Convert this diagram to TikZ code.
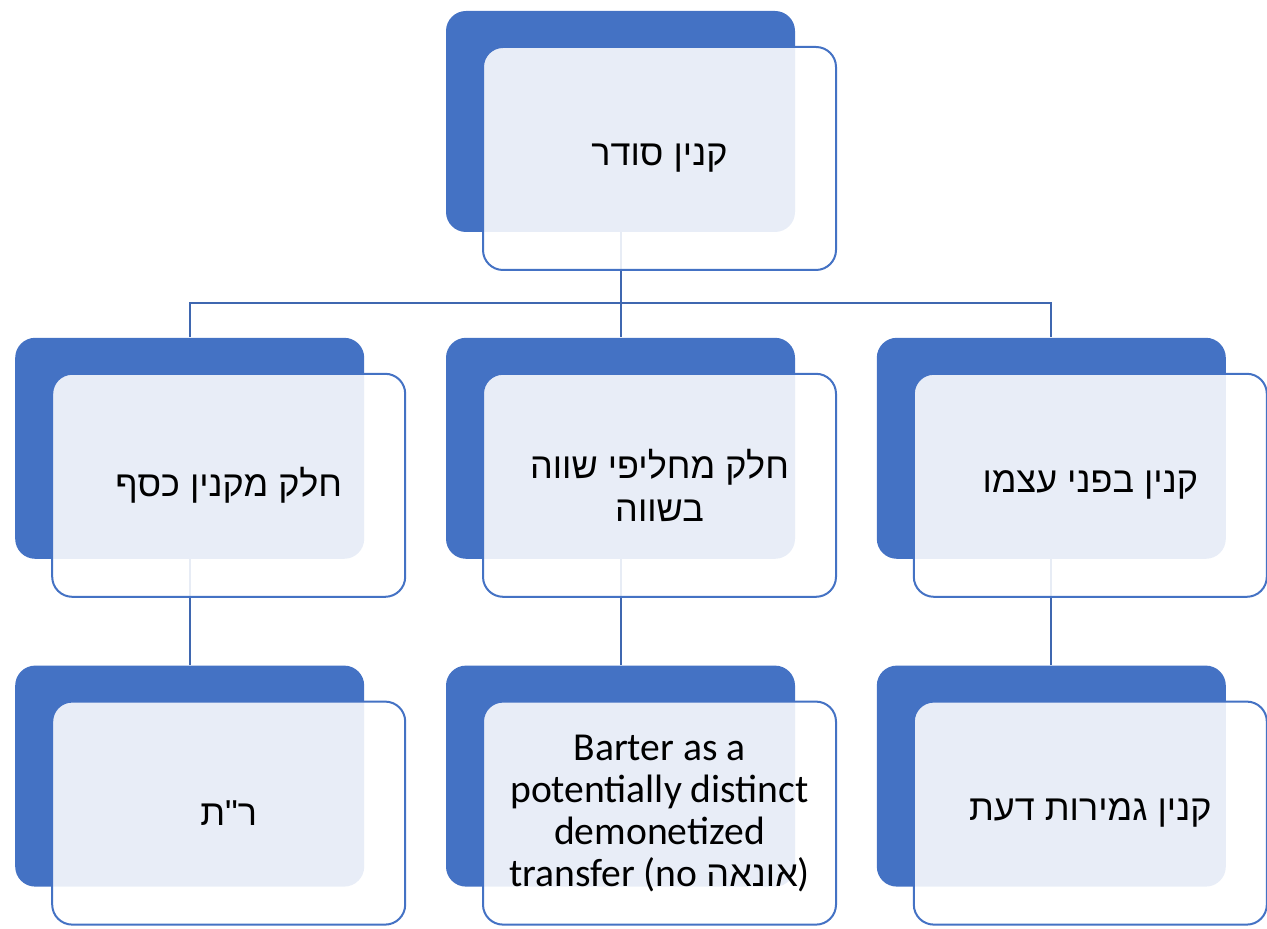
\documentclass[tikz,border=0pt]{standalone}
\usepackage{fontspec}
\setmainfont{Carlito}
\newfontfamily\hebfont[Script=Hebrew]{Liberation Sans}
\TeXXeTstate=1
\usetikzlibrary{positioning}
\definecolor{boxblue}{HTML}{4472C4}
\definecolor{linkblue}{HTML}{3F67B0}
\newcommand{\heb}[1]{{\hebfont\beginR #1\endR}}

\begin{document}
\begin{tikzpicture}[x=0.5pt, y=-0.5pt,
    back/.style={fill=boxblue, rounded corners=10pt, minimum width=174.5pt,
                 minimum height=110.5pt, inner sep=0pt},
    front/.style={draw=boxblue, line width=1pt, fill=white, fill opacity=0.88,
                  text opacity=1, rounded corners=10pt, minimum width=176.5pt,
                  minimum height=111.5pt, align=center,
                  font=\fontsize{18}{21.5}\selectfont},
    link/.style={draw=linkblue, line width=1pt}]

    \useasboundingbox (0,0) rectangle (1267,929);

    % dark back cards, top card first, the rows below it
    \node[back] (top) at (620.5,121.5) {};
    \node[back, below=52.5pt of top] (mid) {};
    \node[back, left=40.5pt of mid] (left) {};
    \node[back, right=40.5pt of mid] (right) {};
    \node[back, below=53pt of left] (leftb) {};
    \node[back, below=53pt of mid] (midb) {};
    \node[back, below=53pt of right] (rightb) {};

    % tree connectors between the back cards
    \draw[link] (top.south) -- ++(0,71) coordinate (hub) -- (mid.north);
    \draw[link] (left.north) |- (hub) -| (right.north);
    \draw[link] (left.south) -- (leftb.north);
    \draw[link] (mid.south) -- (midb.north);
    \draw[link] (right.south) -- (rightb.north);

    % light front cards with the texts
    \node[front] (ftop) at ([shift={(39,37)}]top) {\heb{קנין סודר}};
    \node[front] (fleft) at ([shift={(39,37)}]left) {\heb{חלק מקנין כסף}};
    \node[front] (fmid) at ([shift={(39,37)}]mid)
        {\heb{חלק מחליפי שווה}\\\heb{בשווה}};
    \node[front] (fright) at ([shift={(39,37)}]right) {\heb{קנין בפני עצמו}};
    \node[front] (fleftb) at ([shift={(39,37)}]leftb) {\heb{ר"ת}};
    \node[front, font=\fontsize{19.8}{21}\selectfont] (fmidb) at ([shift={(39,37)}]midb)
        {Barter as a\\potentially distinct\\demonetized\\transfer (no {\fontsize{18}{21}\selectfont\heb{אונאה}})};
    \node[front] (frightb) at ([shift={(39,37)}]rightb) {\heb{קנין גמירות דעת}};
\end{tikzpicture}
\end{document}
